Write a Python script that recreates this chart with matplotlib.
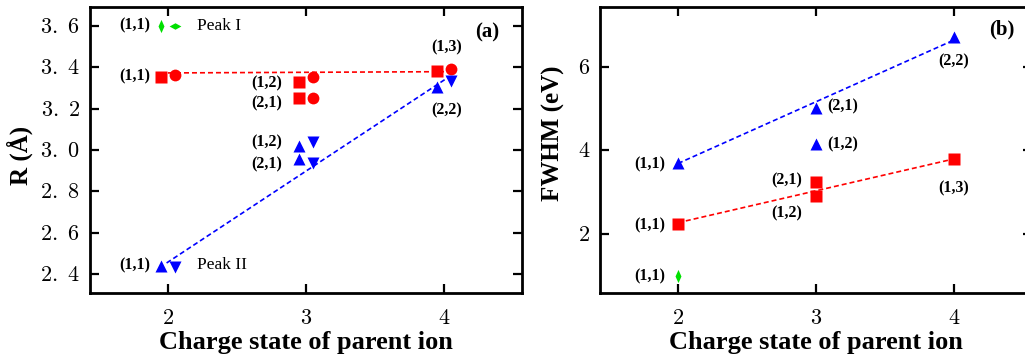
import numpy as np
import matplotlib
matplotlib.use("Agg")
import matplotlib.pyplot as plt

plt.rcParams['font.family'] = 'serif'
plt.rcParams['font.serif'] = ['Liberation Serif', 'DejaVu Serif']
plt.rcParams['mathtext.fontset'] = 'cm'

RED = '#ff0000'
BLUE = '#0000ff'
GREEN = '#00e000'

# ---- panel (a): bond length R ----
a_sq_x = [1.95, 2.95, 2.95, 3.95]
a_sq_y = [3.35, 3.33, 3.25, 3.38]
a_ci_x = [2.05, 3.05, 3.05, 4.05]
a_ci_y = [3.36, 3.35, 3.25, 3.39]
a_up_x = [1.95, 2.95, 2.95, 3.95]
a_up_y = [2.44, 3.02, 2.955, 3.305]
a_dn_x = [2.05, 3.05, 3.05, 4.05]
a_dn_y = [2.435, 3.04, 2.935, 3.335]
a_peak1_x = [1.95, 2.05]
a_peak1_y = [3.6, 3.6]
a_red_fit_x = [2.0, 4.0]
a_red_fit_y = [3.372, 3.378]
a_blue_fit_x = [1.99, 4.04]
a_blue_fit_y = [2.455, 3.355]
a_yticks = [2.4, 2.6, 2.8, 3.0, 3.2, 3.4, 3.6]

# ---- panel (b): FWHM ----
b_sq_x = [2, 3, 3, 4]
b_sq_y = [2.24, 3.24, 2.90, 3.78]
b_up_x = [2, 3, 3, 4]
b_up_y = [3.70, 5.00, 4.14, 6.72]
b_peak1_x = [2]
b_peak1_y = [0.975]
b_red_fit_x = [2.0, 4.0]
b_red_fit_y = [2.26, 3.79]
b_blue_fit_x = [2.0, 4.0]
b_blue_fit_y = [3.68, 6.64]
b_yticks = [2, 4, 6]

xticks = [2, 3, 4]

# thin diamonds, one standing and one lying
vert_dia = [(0, -1), (0.45, 0), (0, 1), (-0.45, 0), (0, -1)]
horz_dia = [(-1, 0), (0, 0.55), (1, 0), (0, -0.55), (-1, 0)]

fig = plt.figure(figsize=(10.25, 3.64), dpi=100)
ax_a = fig.add_axes([0.0878, 0.195, 0.4215, 0.7857])
ax_b = fig.add_axes([0.5854, 0.195, 0.4215, 0.7857])

lbl = dict(fontsize=11.5, fontweight='bold', va='center')
dash = dict(lw=1.2, dashes=(3, 1.8), zorder=2)

# panel (a)
ax_a.plot(a_red_fit_x, a_red_fit_y, color=RED, **dash)
ax_a.plot(a_blue_fit_x, a_blue_fit_y, color=BLUE, **dash)
ax_a.plot(a_sq_x, a_sq_y, 's', color=RED, ms=8, mec='none', zorder=3)
ax_a.plot(a_ci_x, a_ci_y, 'o', color=RED, ms=8.5, mec='none', zorder=3)
ax_a.plot(a_up_x, a_up_y, '^', color=BLUE, ms=8.5, mec='none', zorder=3)
ax_a.plot(a_dn_x, a_dn_y, 'v', color=BLUE, ms=8.5, mec='none', zorder=3)
ax_a.plot(a_peak1_x[:1], a_peak1_y[:1], marker=vert_dia, ls='none', color=GREEN, ms=9.5, mec='none', zorder=3)
ax_a.plot(a_peak1_x[1:], a_peak1_y[1:], marker=horz_dia, ls='none', color=GREEN, ms=8.5, mec='none', zorder=3)

ax_a.text(1.87, 3.60, '(1,1)', ha='right', **lbl)
ax_a.text(2.21, 3.60, 'Peak I', fontsize=12.5, va='center')
ax_a.text(1.87, 3.355, '(1,1)', ha='right', **lbl)
ax_a.text(2.83, 3.32, '(1,2)', ha='right', **lbl)
ax_a.text(2.83, 3.223, '(2,1)', ha='right', **lbl)
ax_a.text(2.83, 3.038, '(1,2)', ha='right', **lbl)
ax_a.text(2.83, 2.93, '(2,1)', ha='right', **lbl)
ax_a.text(4.02, 3.495, '(1,3)', ha='center', **lbl)
ax_a.text(4.02, 3.19, '(2,2)', ha='center', **lbl)
ax_a.text(1.87, 2.443, '(1,1)', ha='right', **lbl)
ax_a.text(2.21, 2.443, 'Peak II', fontsize=12.5, va='center')
ax_a.text(4.31, 3.568, '(a)', ha='center', va='center', fontsize=15, fontweight='bold')

ax_a.set_xlim(1.435, 4.565)
ax_a.set_ylim(2.31, 3.69)
ax_a.set_yticks(a_yticks)
ax_a.set_yticklabels([r'$%s.\ %s$' % tuple(('%.1f' % v).split('.')) for v in a_yticks])
ax_a.set_ylabel('R (Å)', fontsize=18, fontweight='bold')
ax_a.yaxis.set_label_coords(-0.132, 0.48)

# panel (b)
ax_b.plot(b_red_fit_x, b_red_fit_y, color=RED, **dash)
ax_b.plot(b_blue_fit_x, b_blue_fit_y, color=BLUE, **dash)
ax_b.plot(b_sq_x, b_sq_y, 's', color=RED, ms=9, mec='none', zorder=3)
ax_b.plot(b_up_x, b_up_y, '^', color=BLUE, ms=9, mec='none', zorder=3)
ax_b.plot(b_peak1_x, b_peak1_y, marker=vert_dia, ls='none', color=GREEN, ms=9.5, mec='none', zorder=3)

ax_b.text(1.906, 3.66, '(1,1)', ha='right', **lbl)
ax_b.text(3.08, 5.04, '(2,1)', ha='left', **lbl)
ax_b.text(3.08, 4.14, '(1,2)', ha='left', **lbl)
ax_b.text(4.0, 6.12, '(2,2)', ha='center', **lbl)
ax_b.text(1.906, 2.2, '(1,1)', ha='right', **lbl)
ax_b.text(2.90, 3.28, '(2,1)', ha='right', **lbl)
ax_b.text(2.90, 2.49, '(1,2)', ha='right', **lbl)
ax_b.text(4.0, 3.08, '(1,3)', ha='center', **lbl)
ax_b.text(1.906, 0.975, '(1,1)', ha='right', **lbl)
ax_b.text(4.346, 6.9, '(b)', ha='center', va='center', fontsize=15, fontweight='bold')

ax_b.set_xlim(1.435, 4.565)
ax_b.set_ylim(0.574, 7.43)
ax_b.set_yticks(b_yticks)
ax_b.set_yticklabels([r'$%d$' % v for v in b_yticks])
ax_b.set_ylabel('FWHM (eV)', fontsize=18, fontweight='bold')
ax_b.yaxis.set_label_coords(-0.081, 0.558)

for ax in (ax_a, ax_b):
    ax.set_xticks(xticks)
    ax.set_xticklabels([r'$%d$' % v for v in xticks])
    ax.set_xlabel('Charge state of parent ion', fontsize=19, fontweight='bold', labelpad=2)
    ax.tick_params(axis='both', which='major', direction='in', length=6.5, width=1.6,
                   top=True, right=True, labelsize=16)
    ax.tick_params(axis='x', pad=12)
    ax.tick_params(axis='y', pad=7)
    for s in ax.spines.values():
        s.set_linewidth(2)

plt.savefig('out.png', dpi=100)
plt.close()
